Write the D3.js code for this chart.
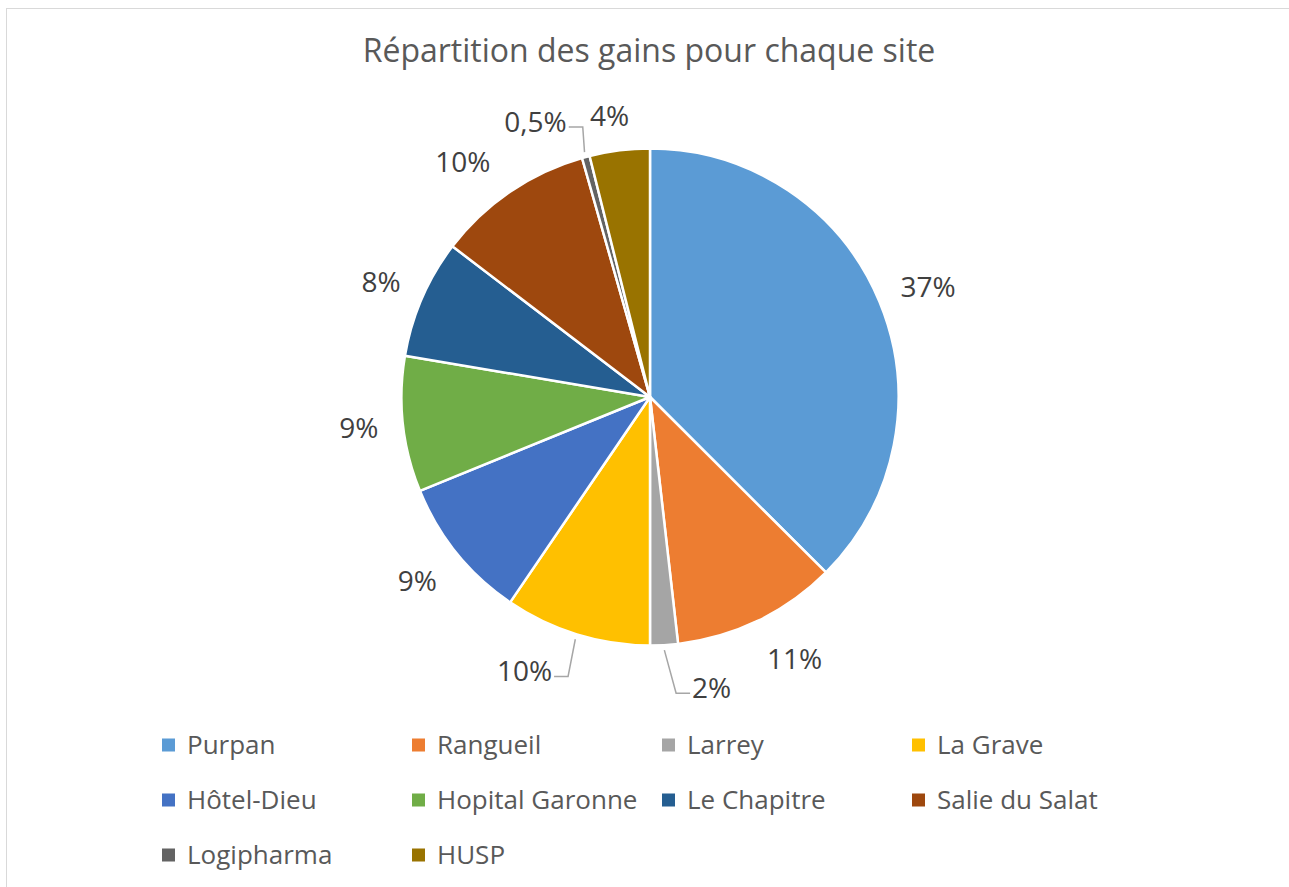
<!DOCTYPE html>
<html>
<head>
<meta charset="utf-8">
<script src="https://cdn.jsdelivr.net/npm/d3@7"></script>
<style>
  body { margin: 0; background: #fff; }
  text { font-family: "Open Sans", "Noto Sans", sans-serif; }
</style>
</head>
<body>
<div id="chart"></div>
<script>
// chart data
const sites = ["Purpan", "Rangueil", "Larrey", "La Grave", "Hôtel-Dieu",
  "Hopital Garonne", "Le Chapitre", "Salie du Salat", "Logipharma", "HUSP"];
const gains = [37.4, 10.7, 1.8, 9.5, 9.3, 8.8, 7.7, 10.2, 0.5, 3.9];
const pctLabels = ["37%", "11%", "2%", "10%", "9%", "9%", "8%", "10%", "0,5%", "4%"];
const colors = ["#5B9BD5", "#ED7D31", "#A5A5A5", "#FFC000", "#4472C4",
  "#70AD47", "#255E91", "#9E480E", "#636363", "#997300"];

const width = 1289;
const height = 887;
const cx = 650, cy = 397, radius = 248.5;
const labelGap = 25;
// labels Excel moved aside: angle shift (deg), extra distance, leader line
const labelShift = {
  "Rangueil": { da: -2, dr: 9 },
  "Hôtel-Dieu": { da: 0, dr: 6 },
  "Salie du Salat": { da: -3, dr: 8 },
  "HUSP": { da: -1, dr: -4 },
  "Larrey": { da: -8.5, dr: 10, leader: true },
  "La Grave": { da: 6.5, dr: 12, leader: true },
  "Logipharma": { da: -6.5, dr: 8, leader: true }
};

const svg = d3.select("#chart").append("svg")
  .attr("width", width)
  .attr("height", height);

// chart area border
svg.append("rect")
  .attr("x", 6.5).attr("y", 8.5)
  .attr("width", width + 20).attr("height", height + 20)
  .attr("fill", "#fff")
  .attr("stroke", "#d9d9d9")
  .attr("stroke-width", 1);

svg.append("text")
  .attr("x", 649).attr("y", 62)
  .attr("text-anchor", "middle")
  .attr("font-size", 32)
  .attr("fill", "#595959")
  .text("Répartition des gains pour chaque site");

const color = d3.scaleOrdinal().domain(sites).range(colors);

const pie = d3.pie().sort(null).value(d => d.value);
const arcs = pie(sites.map((s, i) => ({ name: s, value: gains[i], label: pctLabels[i] })));

const arc = d3.arc().innerRadius(0).outerRadius(radius);

const g = svg.append("g")
  .attr("transform", "translate(" + cx + "," + cy + ")");

g.selectAll("path.slice")
  .data(arcs)
  .enter().append("path")
  .attr("class", "slice")
  .attr("d", arc)
  .attr("fill", d => color(d.data.name))
  .attr("stroke", "#fff")
  .attr("stroke-width", 2.5)
  .attr("stroke-linejoin", "round");

function polar(a, r) {
  return [r * Math.sin(a), -r * Math.cos(a)];
}

// data labels, outside end: box corner sits just off the rim
arcs.forEach(function(d) {
  const mid = (d.startAngle + d.endAngle) / 2;
  const sh = labelShift[d.data.name] || { da: 0, dr: 0 };
  const a = mid + sh.da * Math.PI / 180;
  const t = g.append("text")
    .attr("dy", "0.35em")
    .attr("text-anchor", "middle")
    .attr("font-size", 28)
    .attr("fill", "#404040")
    .text(d.data.label);
  const w = t.node().getComputedTextLength();
  const h = 28;
  const p = polar(a, radius + labelGap + sh.dr);
  const x = p[0] + Math.sin(a) * w / 2;
  const y = p[1] - Math.cos(a) * h / 2;
  t.attr("x", x).attr("y", y);

  if (sh.leader) {
    const s = polar(mid, radius + 5);
    const right = x > s[0];
    const edge = right ? x - w / 2 - 2 : x + w / 2 + 2;
    const elbowX = right ? edge - 14 : edge + 14;
    const elbowY = y + 5;
    g.append("polyline")
      .attr("points", [s, [elbowX, elbowY], [edge, elbowY]].map(q => q.join(",")).join(" "))
      .attr("fill", "none")
      .attr("stroke", "#a6a6a6")
      .attr("stroke-width", 1.5);
  }
});

// legend, 4 columns
const legend = svg.append("g");
const item = legend.selectAll("g")
  .data(sites)
  .enter().append("g")
  .attr("transform", (d, i) => "translate(" + (162 + (i % 4) * 250) + "," + (745 + Math.floor(i / 4) * 55) + ")");

item.append("rect")
  .attr("x", 0).attr("y", -6.5)
  .attr("width", 13).attr("height", 13)
  .attr("fill", d => color(d));

item.append("text")
  .attr("x", 25).attr("y", 0)
  .attr("dy", "0.35em")
  .attr("font-size", 26)
  .attr("fill", "#595959")
  .text(d => d);
</script>
</body>
</html>
